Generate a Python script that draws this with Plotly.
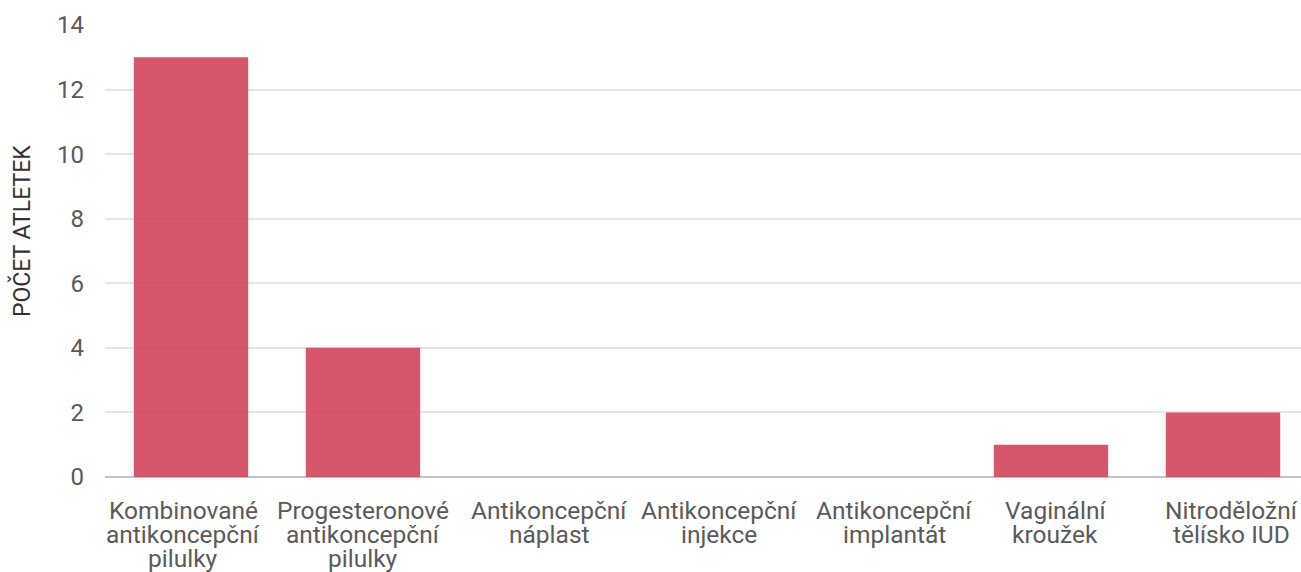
import plotly.graph_objects as go

# Contraceptive methods used by the athletes (label lines split for tight wrapping)
categories = [
    "Kombinované<br>antikoncepční<br>pilulky",
    "Progesteronové<br>antikoncepční<br>pilulky",
    "Antikoncepční<br>náplast",
    "Antikoncepční<br>injekce",
    "Antikoncepční<br>implantát",
    "Vaginální<br>kroužek",
    "Nitroděložní<br>tělísko IUD",
]
counts = [13, 4, 0, 0, 0, 1, 2]
y_ticks = [0, 2, 4, 6, 8, 10, 12, 14]
y_title = "POČET ATLETEK"

LABEL_SIZE = 24.5
LINE_STEP = 24  # pixels between wrapped label lines
FIRST_LINE_OFFSET = 33  # pixels from the axis to the centre of the first line
# horizontal nudges that keep neighbouring labels apart
LABEL_NUDGE = [-8, 0, 14, 12, 15, 4, 8]

fig = go.Figure(
    go.Bar(
        x=categories,
        y=counts,
        marker=dict(color="rgba(207,56,81,0.85)", line=dict(width=0)),
        hoverinfo="skip",
    )
)

# Category labels drawn line by line so the wrapped lines sit close together
for cat, nudge in zip(categories, LABEL_NUDGE):
    for k, line in enumerate(cat.split("<br>")):
        fig.add_annotation(
            x=cat,
            y=0,
            xref="x",
            yref="paper",
            text=line,
            showarrow=False,
            xanchor="center",
            yanchor="middle",
            xshift=nudge,
            yshift=-(FIRST_LINE_OFFSET + k * LINE_STEP),
            font=dict(family="Roboto", size=LABEL_SIZE, color="#5a5a5a"),
        )

# Rotated y-axis title
fig.add_annotation(
    x=0,
    y=0.544,
    xref="paper",
    yref="paper",
    text=y_title,
    textangle=-90,
    showarrow=False,
    xanchor="center",
    yanchor="middle",
    xshift=-84,
    font=dict(family="Roboto", size=23, color="#333333"),
)

fig.update_layout(
    width=1301,
    height=572,
    margin=dict(l=105, r=0, t=25, b=95),
    paper_bgcolor="white",
    plot_bgcolor="white",
    bargap=0.335,
    showlegend=False,
    font=dict(family="Roboto", color="#5a5a5a"),
)

fig.update_xaxes(
    type="category",
    range=[-0.5, 6.5 - 8 / 172],
    showgrid=False,
    showline=False,
    ticks="",
    showticklabels=False,
)

fig.update_yaxes(
    range=[0, 14],
    tickvals=y_ticks,
    showgrid=True,
    gridcolor="#e6e6e6",
    gridwidth=2,
    zeroline=True,
    zerolinecolor="#c4c4c4",
    zerolinewidth=2,
    showline=False,
    ticks="",
    ticklabelstandoff=20,
    tickfont=dict(size=24, color="#5a5a5a"),
)

fig.write_html("out.html")
